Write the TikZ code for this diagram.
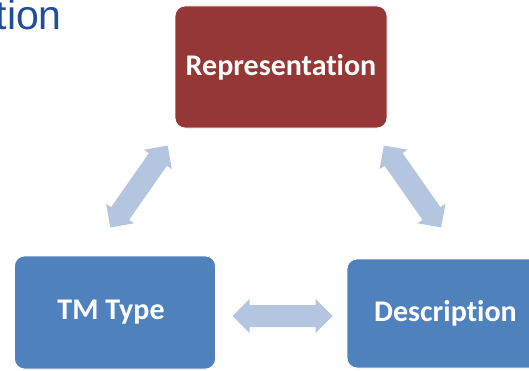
\documentclass[tikz,border=0pt]{standalone}
\usepackage{fontspec}
\setmainfont{Carlito}[RawFeature=-liga]
\newfontfamily\titlefont{Liberation Sans}
\definecolor{boxred}{HTML}{953735}
\definecolor{boxblue}{HTML}{4F81BD}
\definecolor{arrowblue}{HTML}{B4C5E0}
\definecolor{titleblue}{HTML}{1F4E9A}
\tikzset{
  box/.style={rounded corners=10pt, draw=white, line width=0.8pt, inner sep=0pt,
    text=white, font=\fontsize{30}{34}\selectfont\bfseries},
  fatarrow/.style={fill=arrowblue, draw=none}
}
\newcommand\fatarrowat[3]{%
  \begin{scope}[shift={(#1,#2)}, rotate=#3]
    \fill[fatarrow] (-50,0) -- (-33,17) -- (-33,11) -- (33,11) -- (33,17) -- (50,0)
      -- (33,-17) -- (33,-11) -- (-33,-11) -- (-33,-17) -- cycle;
  \end{scope}}
\begin{document}
\begin{tikzpicture}[x=1pt,y=1pt]
\useasboundingbox (0,0) rectangle (529,370);
\clip (0,0) rectangle (529,370);
\node[anchor=base east, text=titleblue, inner sep=0pt, font=\titlefont\fontsize{41}{44}\selectfont] (title) at (62,340) {tion};
\node[box, fill=boxred, minimum width=212pt, minimum height=122pt] (rep) at (281,303) {Representation};
\node[box, fill=boxblue, minimum width=201pt, minimum height=113pt] (tm) at (115,57.5) {\hspace*{-8pt}TM Type};
\node[box, fill=boxblue, minimum width=201pt, minimum height=109pt] (desc) at (447.5,56.5) {\hspace*{-4pt}Description};
\fatarrowat{139}{183.5}{55}
\fatarrowat{412.5}{183.5}{-55}
\fatarrowat{282.5}{54}{0}
\end{tikzpicture}
\end{document}
